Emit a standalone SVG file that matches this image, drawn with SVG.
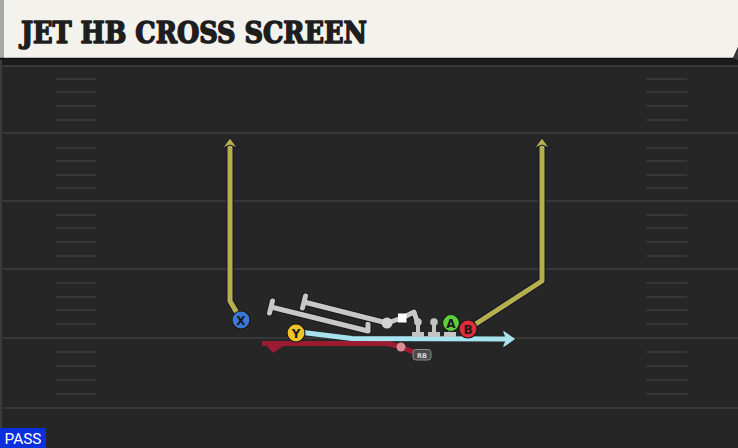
<svg xmlns="http://www.w3.org/2000/svg" width="738" height="448" viewBox="0 0 738 448">
<style>
.yard{stroke:#383838;stroke-width:2}
.hash{stroke:#363636;stroke-width:2}
.olive-o{fill:none;stroke:#15152e;stroke-width:7;stroke-linejoin:round}
.olive{fill:none;stroke:#b4b04b;stroke-width:5;stroke-linejoin:round}
.gray-o{fill:none;stroke:#1a1a1a;stroke-width:7;stroke-linejoin:round;stroke-linecap:round}
.gray{fill:none;stroke:#c8c8c8;stroke-width:5;stroke-linejoin:round;stroke-linecap:round}
.pl{stroke:#1a1a1a;stroke-width:1.2}
.lbl{font-family:"DejaVu Sans","Liberation Sans",sans-serif;font-weight:bold;font-size:12px;fill:#1a1a1a;text-anchor:middle}
.lm{fill:#c4c4c4}
</style>
<defs>
<g id="pin"><rect x="-6" y="10" width="12" height="5" class="lm"/><rect x="-2" y="0" width="4" height="11" class="lm"/><circle cx="0" cy="0" r="3.8" class="lm"/></g>
</defs>
<rect x="0" y="0" width="738" height="448" fill="#262626"/>
<rect x="0" y="58" width="738" height="7" fill="#1b1b1b"/>
<line x1="1" y1="60" x2="1" y2="448" stroke="#3c3c3c" stroke-width="2"/>
<g id="yardlines">
<line class="yard" x1="0" y1="66" x2="738" y2="66"/>
<line class="yard" x1="0" y1="133" x2="738" y2="133"/>
<line class="yard" x1="0" y1="201" x2="738" y2="201"/>
<line class="yard" x1="0" y1="269" x2="738" y2="269"/>
<line class="yard" x1="0" y1="338" x2="738" y2="338"/>
<line class="yard" x1="0" y1="408" x2="738" y2="408"/>
</g>
<g id="hashes">
<path class="hash" d="M56,79H96M56,92H96M56,106H96M56,120H96M56,148H96M56,161H96M56,175H96M56,188H96M56,215H96M56,228H96M56,242H96M56,256H96M56,283H96M56,297H96M56,310H96M56,324H96M56,352H96M56,366H96M56,380H96M56,394H96"/>
<path class="hash" d="M646,79H687M646,92H687M646,106H687M646,120H687M646,148H687M646,161H687M646,175H687M646,188H687M646,215H687M646,228H687M646,242H687M646,256H687M646,283H687M646,297H687M646,310H687M646,324H687M646,352H687M646,366H687M646,380H687M646,394H687"/>
</g>
<g id="title">
<polygon points="0,0 738,0 738,47 733,58 0,58" fill="#f4f2ec"/>
<polygon points="733,58 738,47 738,60" fill="#3a3a3a"/>
<rect x="0" y="0" width="4" height="58" fill="#a8a8a6"/>
<line x1="0" y1="58.5" x2="733" y2="58.5" stroke="#111" stroke-width="1.5"/>
<text x="21" y="43" font-family="DejaVu Serif, Liberation Serif, serif" font-weight="900" font-size="29" fill="#1e1e1e" stroke="#1e1e1e" stroke-width="1.6" stroke-linejoin="round" textLength="346" lengthAdjust="spacingAndGlyphs">JET HB CROSS SCREEN</text>
</g>
<g id="connectors">
<g id="route-X">
<path class="olive-o" d="M241,320 L230,301 L230,145"/>
<path class="olive" d="M241,320 L230,301 L230,145"/>
<polygon points="230,138 237.5,148 230,145 222.5,148" fill="#b4b04b" stroke="#15152e" stroke-width="1"/>
</g>
<g id="route-B">
<path class="olive-o" d="M468,329 L542,281 L542,145"/>
<path class="olive" d="M468,329 L542,281 L542,145"/>
<polygon points="542,138 549.5,148 542,145 534.5,148" fill="#b4b04b" stroke="#15152e" stroke-width="1"/>
</g>
<g id="blocks">
<path class="gray-o" d="M368,324 L368,331 L271,307 M272.5,301 L269.5,313"/>
<path class="gray" d="M368,324 L368,331 L271,307 M272.5,301 L269.5,313"/>
<path class="gray-o" d="M418,324 L414,312 L402,318 L387,323 L304,302 M305.5,296 L302.5,308"/>
<path class="gray" d="M418,324 L414,312 L402,318 L387,323 L304,302 M305.5,296 L302.5,308"/>
<circle cx="387" cy="323" r="5.5" fill="#d4d4d4"/>
</g>
<g id="route-RB">
<path d="M421,355 L401,347 L388,343.5 L262,343.5" fill="none" stroke="#9b1b30" stroke-width="5" stroke-linejoin="round"/>
<polygon points="266,345 285,345 273,353" fill="#9b1b30"/>
<circle cx="401" cy="347" r="4.5" fill="#d98b96"/>
</g>
<g id="route-Y">
<path d="M303,332.5 L352,338.5 L507,339" fill="none" stroke="#a8e4ef" stroke-width="5" stroke-linejoin="round"/>
<polygon points="514,339 504,332 507,339 504,346" fill="#a8e4ef" stroke="#a8e4ef" stroke-width="1.5" stroke-linejoin="round"/>
</g>
</g>
<g id="linemen">
<rect x="398" y="313.5" width="8.5" height="9" fill="#ffffff"/>
<use href="#pin" x="418" y="322"/>
<use href="#pin" x="434" y="322"/>
<use href="#pin" x="450" y="322"/>
</g>
<g id="player-X">
<circle class="pl" cx="241" cy="320" r="9" fill="#3b78d6"/>
<text class="lbl" x="241" y="324.5">X</text>
</g>
<g id="player-Y">
<circle class="pl" cx="296" cy="333" r="9" fill="#f0c326"/>
<text class="lbl" x="296" y="337.5">Y</text>
</g>
<g id="player-A">
<circle class="pl" cx="451" cy="323" r="8.5" fill="#5bd03c"/>
<text class="lbl" x="451" y="327.5">A</text>
</g>
<g id="player-B">
<circle class="pl" cx="468" cy="329" r="9" fill="#e22b3b"/>
<text class="lbl" x="468" y="333.5">B</text>
</g>
<g id="player-RB">
<rect x="413" y="349.5" width="18" height="10.5" rx="3" fill="#4a4a4a" stroke="#8a8a8a" stroke-width="1"/>
<text x="422" y="357.5" font-family="DejaVu Sans, Liberation Sans, sans-serif" font-weight="bold" font-size="6.5" fill="#d8d8d8" text-anchor="middle">RB</text>
</g>
<g id="badge">
<rect x="0" y="428" width="46" height="20" fill="#0b2fdc"/>
<text x="23" y="444" font-family="Roboto, Liberation Sans, sans-serif" font-size="14" fill="#ffffff" text-anchor="middle" textLength="37" lengthAdjust="spacingAndGlyphs">PASS</text>
</g>
</svg>
